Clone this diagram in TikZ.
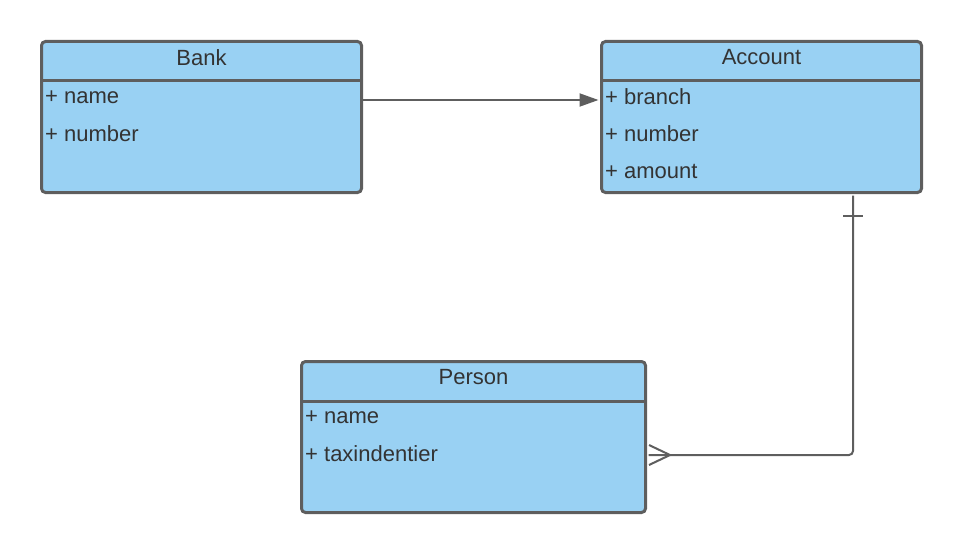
\documentclass[tikz,border=0pt]{standalone}
\usepackage{fontspec}
\setmainfont{Liberation Sans}
\usetikzlibrary{calc,arrows.meta}
\definecolor{boxfill}{RGB}{153,209,243}
\definecolor{boxline}{RGB}{94,94,94}
\definecolor{txt}{RGB}{51,51,51}
\tikzset{
  classbox/.style={draw=boxline, fill=boxfill, line width=3pt, rounded corners=4pt, minimum width=#1, minimum height=151pt, inner sep=0pt, anchor=north west},
  header/.style={text=txt, font=\fontsize{22}{26}\selectfont, anchor=center},
  attr/.style={text=txt, font=\fontsize{22}{26}\selectfont, anchor=west, inner sep=0pt},
  sep/.style={draw=boxline, line width=3pt},
  conn/.style={draw=boxline, line width=2pt},
}
\begin{document}
\begin{tikzpicture}[x=1pt,y=-1pt]
\useasboundingbox (0,0) rectangle (960,551);
% boxes
\node[classbox=320pt] (B) at (40,40) {};
\node[classbox=320pt] (A) at (600,40) {};
\node[classbox=344pt] (P) at (300,360) {};
% header separators
\draw[sep] ($(B.north west)+(0,40)$) -- ($(B.north east)+(0,40)$);
\draw[sep] ($(A.north west)+(0,40)$) -- ($(A.north east)+(0,40)$);
\draw[sep] ($(P.north west)+(0,41)$) -- ($(P.north east)+(0,41)$);
% titles
\node[header] (Bt) at ($(B.north)+(0,17.5)$) {Bank};
\node[header] (At) at ($(A.north)+(0,17.5)$) {Account};
\node[header] (Pt) at ($(P.north)+(0,17.5)$) {Person};
% attributes
\node[attr] (B1) at ($(B.north west)+(5,57)$) {+ name};
\node[attr] (B2) at ($(B.north west)+(5,94)$) {+ number};
\node[attr] (A1) at ($(A.north west)+(5,57)$) {+ branch};
\node[attr] (A2) at ($(A.north west)+(5,94)$) {+ number};
\node[attr] (A3) at ($(A.north west)+(5,131)$) {+ amount};
\node[attr] (P1) at ($(P.north west)+(5,57)$) {+ name};
\node[attr] (P2) at ($(P.north west)+(5,94)$) {+ taxindentier};
% connectors
\coordinate (ry) at (0,100);
\draw[conn, -{Triangle[length=19pt,width=13pt]}] (B.east |- ry) -- ($(A.west |- ry)+(-1.5,0)$);
\coordinate (kx) at (853,0);
\coordinate (cy) at (0,455);
\coordinate (as) at (A.south -| kx);
\coordinate (pe) at (P.east |- cy);
\draw[conn, rounded corners=4pt] ($(as)+(0,1.5)$) |- ($(pe)+(1.5,0)$);
\draw[conn] ($(as)+(-10,22)$) -- ++(20,0);
\draw[conn] ($(pe)+(2,-10)$) -- ++(21,10) -- ++(-21,10);
\end{tikzpicture}
\end{document}
